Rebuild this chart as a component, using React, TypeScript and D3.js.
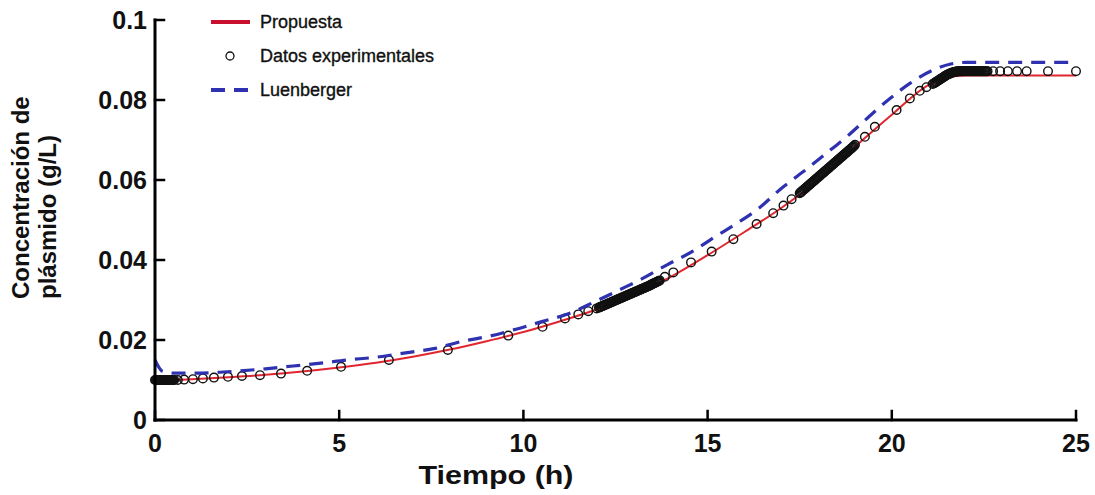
import React from "react";
import * as d3 from "d3";

// Experimental data, Tiempo (h) vs plasmid concentration (g/L), in sampling segments
const timeStart: number[] = [
  0, 0.02, 0.04, 0.06, 0.08, 0.1, 0.12, 0.14, 0.16, 0.18, 0.2, 0.22, 0.24, 0.26,
  0.28, 0.3, 0.32, 0.34, 0.36, 0.38, 0.4, 0.42, 0.44, 0.46, 0.48, 0.5, 0.52,
];
const concStart: number[] = [
  0.01, 0.01, 0.01, 0.01, 0.01, 0.01, 0.01, 0.01, 0.01, 0.01, 0.01, 0.01, 0.01, 0.01,
  0.01, 0.01, 0.01, 0.01, 0.01, 0.01, 0.01, 0.01, 0.01, 0.01, 0.01, 0.01, 0.01,
];

const timeEarly: number[] = [
  0.62, 0.79, 1.03, 1.3, 1.6, 1.98, 2.36, 2.85, 3.42, 4.13, 5.05, 6.35, 7.95,
  9.59, 10.52, 11.13, 11.49, 11.76, 11.99,
];
const concEarly: number[] = [
  0.01, 0.0101, 0.0102, 0.0104, 0.0106, 0.0108, 0.011, 0.0112, 0.0116, 0.0123, 0.0133, 0.015, 0.0175,
  0.0211, 0.0233, 0.0254, 0.0264, 0.0272, 0.0279,
];

const timeBandA: number[] = [
  12.05, 12.075, 12.1, 12.125, 12.15, 12.175, 12.2, 12.225, 12.25, 12.275, 12.3, 12.325,
  12.35, 12.375, 12.4, 12.425, 12.45, 12.475, 12.5, 12.525, 12.55, 12.575, 12.6, 12.625,
  12.65, 12.675, 12.7, 12.725, 12.75, 12.775, 12.8, 12.825, 12.85, 12.875, 12.9, 12.925,
  12.95, 12.975, 13.0, 13.025, 13.05, 13.075, 13.1, 13.125, 13.15, 13.175, 13.2, 13.225,
  13.25, 13.275, 13.3, 13.325, 13.35, 13.375, 13.4, 13.425, 13.45, 13.475, 13.5, 13.525,
  13.55, 13.575, 13.6, 13.625, 13.65, 13.675, 13.7,
];
const concBandA: number[] = [
  0.0281, 0.0282, 0.0283, 0.0284, 0.0285, 0.0286, 0.0287, 0.0288, 0.0289, 0.029, 0.0291, 0.0292,
  0.0293, 0.0294, 0.0295, 0.0296, 0.0297, 0.0298, 0.0299, 0.03, 0.0301, 0.0302, 0.0303, 0.0304,
  0.0305, 0.0306, 0.0307, 0.0308, 0.0309, 0.031, 0.0311, 0.0312, 0.0313, 0.0314, 0.0315, 0.0316,
  0.0317, 0.0318, 0.0319, 0.032, 0.0321, 0.0322, 0.0323, 0.0324, 0.0325, 0.0326, 0.0327, 0.0328,
  0.0329, 0.033, 0.0331, 0.0332, 0.0333, 0.0334, 0.0335, 0.0336, 0.03375, 0.03385, 0.034, 0.0341,
  0.0342, 0.0343, 0.0344, 0.03455, 0.03465, 0.03475, 0.0349,
];

const timeMid: number[] = [13.84, 14.07, 14.55, 15.11, 15.7, 16.33, 16.78, 17.06, 17.28];
const concMid: number[] = [0.0358, 0.0369, 0.0394, 0.0421, 0.0452, 0.049, 0.0517, 0.0536, 0.0552];

const timeBandB: number[] = [
  17.5, 17.525, 17.55, 17.575, 17.6, 17.625, 17.65, 17.675, 17.7, 17.725, 17.75, 17.775,
  17.8, 17.825, 17.85, 17.875, 17.9, 17.925, 17.95, 17.975, 18.0, 18.025, 18.05, 18.075,
  18.1, 18.125, 18.15, 18.175, 18.2, 18.225, 18.25, 18.275, 18.3, 18.325, 18.35, 18.375,
  18.4, 18.425, 18.45, 18.475, 18.5, 18.525, 18.55, 18.575, 18.6, 18.625, 18.65, 18.675,
  18.7, 18.725, 18.75, 18.775, 18.8, 18.825, 18.85, 18.875, 18.9, 18.925, 18.95, 18.975, 19.0,
];
const concBandB: number[] = [
  0.0567, 0.0569, 0.0571, 0.0573, 0.0575, 0.0577, 0.0579, 0.0581, 0.0583, 0.0585, 0.0587, 0.0589,
  0.0591, 0.0593, 0.0595, 0.0597, 0.0599, 0.0601, 0.0603, 0.0605, 0.0607, 0.0609, 0.0611, 0.0613,
  0.0615, 0.0617, 0.0619, 0.0621, 0.0623, 0.0625, 0.0627, 0.0629, 0.0631, 0.0633, 0.0635, 0.0637,
  0.0639, 0.0641, 0.0643, 0.0645, 0.0647, 0.0649, 0.0651, 0.0653, 0.0655, 0.0657, 0.0659, 0.0661,
  0.0663, 0.0665, 0.0667, 0.0669, 0.0671, 0.0673, 0.0675, 0.0677, 0.0679, 0.0681, 0.0683, 0.0685, 0.0688,
];

const timeLate: number[] = [19.27, 19.54, 20.13, 20.49, 20.76, 20.94, 21.11];
const concLate: number[] = [0.0708, 0.0733, 0.0775, 0.0804, 0.0823, 0.0832, 0.084];

const timeBandC: number[] = [
  21.15, 21.175, 21.2, 21.225, 21.25, 21.275, 21.3, 21.325, 21.35, 21.375, 21.4, 21.425,
  21.45, 21.475, 21.5, 21.525, 21.55, 21.575, 21.6, 21.625, 21.65, 21.675, 21.7, 21.725,
  21.75, 21.775, 21.8, 21.825, 21.85, 21.875, 21.9, 21.925, 21.95, 21.975, 22.0, 22.025,
  22.05, 22.075, 22.1, 22.125, 22.15, 22.175, 22.2, 22.225, 22.25, 22.275, 22.3, 22.325,
  22.35, 22.375, 22.4, 22.425, 22.45, 22.475, 22.5, 22.525, 22.55, 22.575, 22.6,
];
const concBandC: number[] = [
  0.0842, 0.08435, 0.0845, 0.08465, 0.0848, 0.08495, 0.0851, 0.08525, 0.0854, 0.08555, 0.0857, 0.08585,
  0.086, 0.08615, 0.0863, 0.0864, 0.0865, 0.0866, 0.0867, 0.0868, 0.0869, 0.08695, 0.087, 0.08705,
  0.0871, 0.08715, 0.0872, 0.0872, 0.0872, 0.0872, 0.0872, 0.0872, 0.0872, 0.0872, 0.0872, 0.0872,
  0.0872, 0.0872, 0.0872, 0.0872, 0.0872, 0.0872, 0.0872, 0.0872, 0.0872, 0.0872, 0.0872, 0.0872,
  0.0872, 0.0872, 0.0872, 0.0872, 0.0872, 0.0872, 0.0872, 0.0872, 0.0872, 0.0872, 0.0872,
];

const timeTail: number[] = [22.75, 22.94, 23.15, 23.4, 23.66, 24.24, 25.0];
const concTail: number[] = [0.0872, 0.0872, 0.0872, 0.0872, 0.0872, 0.0872, 0.0872];

// Proposed model curve
const propTime: number[] = [0, 0.5, 1, 2, 3, 4, 5, 6, 7, 8, 9, 10, 11, 12, 13, 14, 15, 16, 17, 18, 19, 20, 21, 21.5, 22, 25];
const propConc: number[] = [
  0.01, 0.01, 0.0102, 0.0107, 0.0113, 0.0121, 0.0131, 0.0143, 0.0158, 0.0176, 0.0197, 0.022, 0.0247,
  0.0277, 0.0314, 0.0358, 0.0412, 0.047, 0.053, 0.06, 0.0683, 0.0763, 0.0838, 0.0856, 0.0861, 0.0861,
];

// Luenberger observer curve
const luenTime: number[] = [
  0, 0.2, 0.5, 1, 1.5, 2.2, 3, 3.75, 4.5, 5.2, 6, 6.8, 7.6, 8.3, 9.1, 9.8, 10.5, 11.2, 11.9, 12.6,
  13.2, 13.9, 14.6, 15.2, 15.8, 16.4, 17.0, 17.6, 18.2, 18.8, 19.4, 19.9, 20.5, 21.1, 21.6, 22.0, 25,
];
const luenConc: number[] = [
  0.015, 0.0122, 0.0117, 0.0117, 0.0118, 0.0122, 0.0128, 0.0135, 0.0142, 0.015, 0.0157, 0.0168, 0.0179,
  0.0196, 0.021, 0.0227, 0.0246, 0.0265, 0.0294, 0.0325, 0.0352, 0.0388, 0.0422, 0.0458, 0.0492, 0.053,
  0.0579, 0.0621, 0.0665, 0.071, 0.076, 0.08, 0.0842, 0.0874, 0.089, 0.0894, 0.0894,
];

const xTicks: number[] = [0, 5, 10, 15, 20, 25];
const yTicks: number[] = [0, 0.02, 0.04, 0.06, 0.08, 0.1];
const yTickLabels: string[] = ["0", "0.02", "0.04", "0.06", "0.08", "0.1"];

const legendItems: string[] = ["Propuesta", "Datos experimentales", "Luenberger"];

const RED = "#e0262f";
const BLUE = "#2f32b0";
const FONT = "'Liberation Sans', Arial, Helvetica, sans-serif";

const expTime: number[] = [
  ...timeStart, ...timeEarly, ...timeBandA, ...timeMid, ...timeBandB, ...timeLate, ...timeBandC, ...timeTail,
];
const expConc: number[] = [
  ...concStart, ...concEarly, ...concBandA, ...concMid, ...concBandB, ...concLate, ...concBandC, ...concTail,
];

export default function App() {
  const width = 1095;
  const height = 495;
  const x = d3.scaleLinear().domain([0, 25]).range([155, 1076]);
  const y = d3.scaleLinear().domain([0, 0.1]).range([420, 20]);

  const line = d3
    .line<[number, number]>()
    .x((d) => x(d[0]))
    .y((d) => y(d[1]))
    .curve(d3.curveMonotoneX);

  const propPath = line(propTime.map((t, i) => [t, propConc[i]] as [number, number])) || "";
  const luenPath = line(luenTime.map((t, i) => [t, luenConc[i]] as [number, number])) || "";

  return (
    <svg
      width={width}
      height={height}
      style={{ position: "absolute", left: 0, top: 0, background: "#fff" }}
      fontFamily={FONT}
    >
      {/* model curve */}
      <path d={propPath} fill="none" stroke={RED} strokeWidth={2} />

      {/* experimental data */}
      <g>
        {expTime.map((t, i) => (
          <circle key={i} cx={x(t)} cy={y(expConc[i])} r={4.3} fill="none" stroke="#111" strokeWidth={1.4} />
        ))}
      </g>

      {/* observer curve */}
      <path d={luenPath} fill="none" stroke={BLUE} strokeWidth={3.2} strokeDasharray="14,9" />

      {/* axes */}
      <g stroke="#000" strokeLinecap="square">
        <line x1={x(0)} x2={x(0)} y1={y(0.1)} y2={y(0)} strokeWidth={3} />
        <line x1={x(0)} x2={x(25)} y1={y(0)} y2={y(0)} strokeWidth={3} />
        {yTicks.map((v) => (
          <line key={"yt" + v} x1={x(0)} x2={x(0) + 9} y1={y(v)} y2={y(v)} strokeWidth={2.5} />
        ))}
        {xTicks.map((v) => (
          <line key={"xt" + v} x1={x(v)} x2={x(v)} y1={y(0)} y2={y(0) - 9} strokeWidth={2.5} />
        ))}
      </g>

      {/* tick labels */}
      <g fontSize={25} fontWeight="bold" fill="#111">
        {yTicks.map((v, i) => (
          <text key={"yl" + v} x={x(0) - 8} y={y(v)} textAnchor="end" dominantBaseline="central">
            {yTickLabels[i]}
          </text>
        ))}
        {xTicks.map((v) => (
          <text key={"xl" + v} x={x(v)} y={452} textAnchor="middle">
            {v}
          </text>
        ))}
      </g>

      {/* axis titles */}
      <text
        x={496}
        y={484}
        textAnchor="middle"
        fontSize={26}
        fontWeight="bold"
        fill="#111"
        textLength={155}
        lengthAdjust="spacingAndGlyphs"
      >
        Tiempo (h)
      </text>
      <g fontSize={24} fontWeight="bold" fill="#111">
        <text transform="translate(29,299) rotate(-90)" textAnchor="start">
          Concentración de
        </text>
        <text transform="translate(56,299) rotate(-90)" textAnchor="start">
          plásmido (g/L)
        </text>
      </g>

      {/* legend */}
      <g fontSize={18} fill="#111" stroke="#111" strokeWidth={0.35}>
        <line x1={211} x2={250} y1={22} y2={22} stroke="#c8102e" strokeWidth={4} />
        <text x={260} y={22} dominantBaseline="central">{legendItems[0]}</text>
        <circle cx={230} cy={56} r={4} fill="none" stroke="#111" strokeWidth={1.3} />
        <text x={260} y={56} dominantBaseline="central">{legendItems[1]}</text>
        <line x1={211} x2={250} y1={90} y2={90} stroke={BLUE} strokeWidth={4} strokeDasharray="14,9" />
        <text x={260} y={90} dominantBaseline="central">{legendItems[2]}</text>
      </g>
    </svg>
  );
}
